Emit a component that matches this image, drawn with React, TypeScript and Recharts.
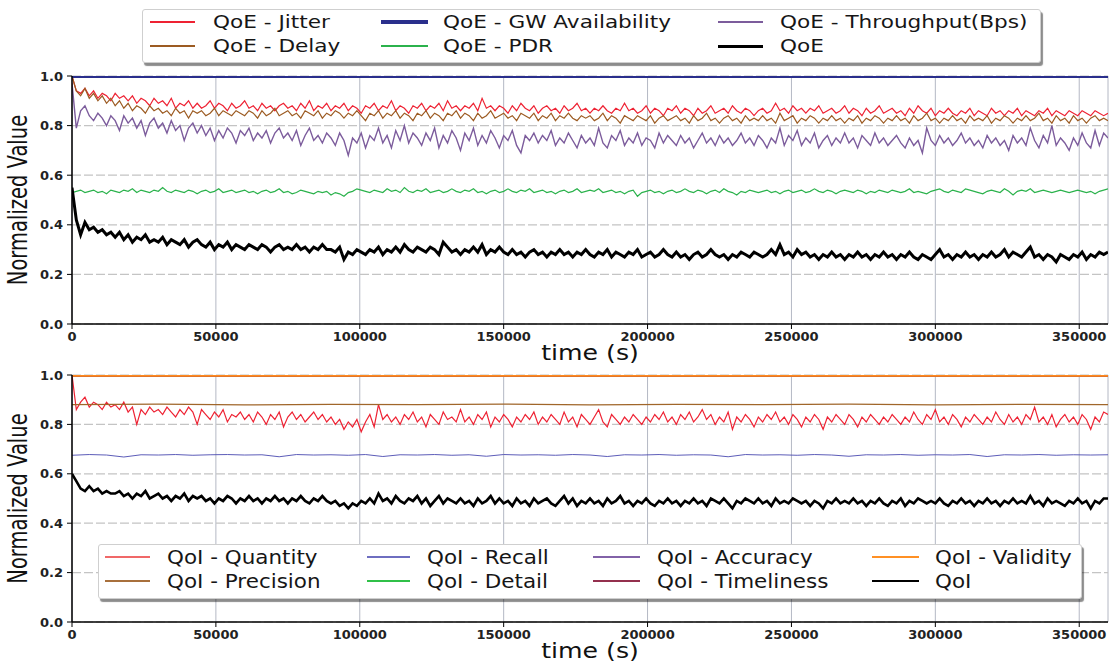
import { CartesianGrid, Label, Line, LineChart, XAxis, YAxis } from "recharts";

// sample times (s)
const time = [
  0, 1500, 3000, 4500, 6000, 7500, 9000, 10500, 12000, 13500,
  15000, 16500, 18000, 19500, 21000, 22500, 24000, 25500, 27000, 28500,
  30000, 31500, 33000, 34500, 36000, 37500, 39000, 40500, 42000, 43500,
  45000, 46500, 48000, 49500, 51000, 52500, 54000, 55500, 57000, 58500,
  60000, 61500, 63000, 64500, 66000, 67500, 69000, 70500, 72000, 73500,
  75000, 76500, 78000, 79500, 81000, 82500, 84000, 85500, 87000, 88500,
  90000, 91500, 93000, 94500, 96000, 97500, 99000, 100500, 102000, 103500,
  105000, 106500, 108000, 109500, 111000, 112500, 114000, 115500, 117000, 118500,
  120000, 121500, 123000, 124500, 126000, 127500, 129000, 130500, 132000, 133500,
  135000, 136500, 138000, 139500, 141000, 142500, 144000, 145500, 147000, 148500,
  150000, 151500, 153000, 154500, 156000, 157500, 159000, 160500, 162000, 163500,
  165000, 166500, 168000, 169500, 171000, 172500, 174000, 175500, 177000, 178500,
  180000, 181500, 183000, 184500, 186000, 187500, 189000, 190500, 192000, 193500,
  195000, 196500, 198000, 199500, 201000, 202500, 204000, 205500, 207000, 208500,
  210000, 211500, 213000, 214500, 216000, 217500, 219000, 220500, 222000, 223500,
  225000, 226500, 228000, 229500, 231000, 232500, 234000, 235500, 237000, 238500,
  240000, 241500, 243000, 244500, 246000, 247500, 249000, 250500, 252000, 253500,
  255000, 256500, 258000, 259500, 261000, 262500, 264000, 265500, 267000, 268500,
  270000, 271500, 273000, 274500, 276000, 277500, 279000, 280500, 282000, 283500,
  285000, 286500, 288000, 289500, 291000, 292500, 294000, 295500, 297000, 298500,
  300000, 301500, 303000, 304500, 306000, 307500, 309000, 310500, 312000, 313500,
  315000, 316500, 318000, 319500, 321000, 322500, 324000, 325500, 327000, 328500,
  330000, 331500, 333000, 334500, 336000, 337500, 339000, 340500, 342000, 343500,
  345000, 346500, 348000, 349500, 351000, 352500, 354000, 355500, 357000, 358500,
  360000,
];

const qoeJitter = [
  1.0, 0.94, 0.93, 0.95, 0.92, 0.94, 0.91, 0.93, 0.92, 0.9,
  0.93, 0.91, 0.92, 0.9, 0.92, 0.89, 0.91, 0.9, 0.88, 0.91,
  0.89, 0.9, 0.88, 0.91, 0.87, 0.89, 0.88, 0.9, 0.87, 0.89,
  0.87, 0.88, 0.9, 0.87, 0.89, 0.88, 0.86, 0.89, 0.87, 0.88,
  0.9, 0.87, 0.88, 0.86, 0.89, 0.87, 0.88, 0.86, 0.88, 0.89,
  0.87, 0.88, 0.86, 0.89, 0.87, 0.9, 0.86, 0.88, 0.87, 0.89,
  0.86, 0.88, 0.87, 0.89, 0.86, 0.88, 0.87, 0.85, 0.88, 0.87,
  0.89, 0.86, 0.88, 0.87, 0.9, 0.86, 0.88, 0.87, 0.85, 0.88,
  0.87, 0.89, 0.86, 0.88, 0.87, 0.89, 0.86, 0.9, 0.87, 0.88,
  0.86, 0.88, 0.87, 0.89, 0.86, 0.91, 0.87, 0.88, 0.86, 0.88,
  0.87, 0.85, 0.88, 0.86, 0.89, 0.87, 0.86, 0.88, 0.85, 0.87,
  0.88, 0.86, 0.87, 0.85, 0.88, 0.86, 0.87, 0.89, 0.86, 0.87,
  0.85, 0.87, 0.86, 0.88, 0.86, 0.85, 0.87, 0.86, 0.89, 0.86,
  0.87, 0.85, 0.86, 0.88, 0.85, 0.87, 0.86, 0.84, 0.87, 0.86,
  0.88, 0.85, 0.87, 0.86, 0.84, 0.87, 0.85, 0.86, 0.88, 0.85,
  0.86, 0.87, 0.85, 0.88, 0.86, 0.85, 0.87, 0.86, 0.84, 0.86,
  0.87, 0.85, 0.86, 0.89, 0.86, 0.87, 0.85, 0.88, 0.86, 0.87,
  0.85, 0.87, 0.86, 0.88, 0.85, 0.86, 0.87, 0.85, 0.86, 0.88,
  0.85, 0.87, 0.86, 0.84, 0.87, 0.85, 0.86, 0.88, 0.85, 0.86,
  0.87, 0.85, 0.86, 0.84, 0.87, 0.85, 0.88, 0.86, 0.85, 0.87,
  0.84, 0.86, 0.85, 0.87, 0.85, 0.84, 0.86, 0.85, 0.87, 0.84,
  0.86, 0.85, 0.84, 0.87, 0.85, 0.86, 0.84, 0.86, 0.85, 0.87,
  0.84, 0.86, 0.85, 0.84, 0.86, 0.85, 0.87, 0.84, 0.86, 0.85,
  0.84, 0.86, 0.85, 0.84, 0.86, 0.85, 0.84, 0.86, 0.85, 0.84,
  0.85,
];

const qoeDelay = [
  1.0, 0.94, 0.92, 0.95, 0.91, 0.93, 0.9, 0.92, 0.89, 0.91,
  0.88, 0.9, 0.87, 0.89, 0.86, 0.88, 0.87, 0.85, 0.88, 0.86,
  0.87, 0.85, 0.86, 0.84, 0.87, 0.85, 0.86, 0.83, 0.86, 0.85,
  0.86, 0.84, 0.85, 0.87, 0.84, 0.86, 0.85, 0.84, 0.86, 0.85,
  0.84, 0.86, 0.85, 0.83, 0.86, 0.84, 0.85, 0.87, 0.84, 0.85,
  0.86, 0.84, 0.85, 0.83, 0.86, 0.85, 0.84, 0.86, 0.83, 0.85,
  0.84, 0.86, 0.85, 0.83, 0.85, 0.84, 0.86, 0.84, 0.82, 0.85,
  0.84, 0.86, 0.83, 0.85, 0.84, 0.86, 0.83, 0.85, 0.84, 0.82,
  0.85, 0.84, 0.86, 0.83, 0.85, 0.84, 0.82, 0.85, 0.84, 0.86,
  0.83, 0.85, 0.84, 0.82, 0.85, 0.83, 0.84, 0.86, 0.83, 0.84,
  0.85, 0.83, 0.84, 0.82, 0.85, 0.84, 0.83, 0.85, 0.82, 0.84,
  0.83, 0.85, 0.82, 0.84, 0.83, 0.85, 0.83, 0.82, 0.84, 0.83,
  0.84, 0.82, 0.83, 0.85, 0.82, 0.84, 0.83, 0.81, 0.84, 0.83,
  0.82, 0.84, 0.83, 0.82, 0.84, 0.81, 0.83, 0.84, 0.82, 0.83,
  0.84, 0.82, 0.83, 0.81, 0.84, 0.82, 0.83, 0.85, 0.82, 0.83,
  0.81, 0.83, 0.84, 0.82, 0.83, 0.81, 0.84, 0.82, 0.83, 0.82,
  0.84, 0.82, 0.83, 0.81, 0.85, 0.82, 0.83, 0.84, 0.81, 0.83,
  0.82, 0.84, 0.83, 0.81, 0.83, 0.82, 0.84, 0.82, 0.83, 0.81,
  0.83, 0.82, 0.84, 0.81, 0.83, 0.82, 0.84, 0.83, 0.81, 0.83,
  0.82, 0.84, 0.82, 0.83, 0.81, 0.84, 0.82, 0.83, 0.85, 0.82,
  0.83, 0.81, 0.83, 0.82, 0.84, 0.82, 0.83, 0.81, 0.84, 0.82,
  0.83, 0.82, 0.84, 0.81, 0.83, 0.82, 0.84, 0.83, 0.81, 0.83,
  0.82, 0.84, 0.82, 0.83, 0.85, 0.82, 0.83, 0.81, 0.84, 0.82,
  0.83, 0.81, 0.84, 0.82, 0.83, 0.81, 0.83, 0.84, 0.82, 0.83,
  0.82,
];

const qoeThroughput = [
  0.97, 0.79, 0.86, 0.88, 0.84, 0.82, 0.85, 0.83, 0.8, 0.84,
  0.82, 0.78, 0.84, 0.81, 0.83, 0.79, 0.82, 0.76, 0.81, 0.83,
  0.79, 0.81, 0.77, 0.82, 0.78, 0.8, 0.74, 0.79, 0.81, 0.77,
  0.8, 0.76, 0.79, 0.74, 0.78, 0.75, 0.79, 0.77, 0.73, 0.78,
  0.76, 0.79, 0.74, 0.77, 0.75, 0.78, 0.73, 0.77, 0.79, 0.75,
  0.77, 0.74, 0.78, 0.72, 0.76, 0.79, 0.74, 0.76, 0.73, 0.77,
  0.75, 0.72, 0.77, 0.74, 0.68, 0.75, 0.73, 0.77, 0.71, 0.76,
  0.74, 0.79, 0.73, 0.76, 0.71, 0.78, 0.74, 0.8, 0.73, 0.77,
  0.75, 0.72, 0.77, 0.74, 0.79, 0.71, 0.76, 0.73, 0.78, 0.75,
  0.7, 0.77, 0.74, 0.79, 0.72, 0.76, 0.73, 0.78, 0.75, 0.71,
  0.76, 0.74, 0.78, 0.72, 0.69, 0.76, 0.74, 0.77, 0.73, 0.76,
  0.74, 0.78, 0.72, 0.75, 0.73, 0.77, 0.74, 0.71, 0.76, 0.73,
  0.75, 0.72, 0.79, 0.73, 0.71, 0.76, 0.74, 0.78, 0.72, 0.75,
  0.73, 0.77, 0.72, 0.75, 0.74, 0.71, 0.77, 0.73, 0.76, 0.74,
  0.72, 0.76, 0.73, 0.75, 0.71, 0.74, 0.77, 0.73, 0.75, 0.72,
  0.76, 0.73, 0.75, 0.72, 0.74, 0.77, 0.73, 0.75, 0.72, 0.76,
  0.74, 0.71, 0.75, 0.73, 0.79, 0.72, 0.76, 0.74, 0.78, 0.72,
  0.75, 0.73, 0.77, 0.71, 0.74, 0.76, 0.72, 0.75, 0.73, 0.77,
  0.73, 0.75, 0.71, 0.76, 0.74, 0.72, 0.77, 0.73, 0.75, 0.72,
  0.74, 0.76, 0.73, 0.71, 0.75, 0.72, 0.74, 0.69, 0.79, 0.74,
  0.72, 0.76, 0.73, 0.75, 0.72, 0.74, 0.77, 0.73, 0.75, 0.72,
  0.74, 0.71, 0.76, 0.73, 0.75, 0.72, 0.74, 0.7, 0.76, 0.73,
  0.75, 0.72, 0.79, 0.74, 0.71, 0.76, 0.73, 0.8, 0.72, 0.75,
  0.73, 0.7, 0.75, 0.72, 0.77, 0.73, 0.71, 0.78, 0.72, 0.77,
  0.75,
];

const qoePdr = [
  0.53, 0.535, 0.54, 0.53, 0.535, 0.54, 0.53, 0.535, 0.525, 0.54,
  0.535, 0.53, 0.54, 0.535, 0.545, 0.53, 0.54, 0.535, 0.53, 0.54,
  0.535, 0.55, 0.535, 0.53, 0.54, 0.535, 0.53, 0.54, 0.535, 0.525,
  0.535, 0.54, 0.53, 0.535, 0.545, 0.53, 0.535, 0.54, 0.53, 0.535,
  0.54, 0.53, 0.535, 0.525, 0.535, 0.54, 0.53, 0.535, 0.545, 0.53,
  0.535, 0.525, 0.53, 0.54, 0.535, 0.53, 0.525, 0.535, 0.53, 0.535,
  0.52, 0.53, 0.525, 0.515, 0.53, 0.535, 0.545, 0.54, 0.535, 0.53,
  0.54, 0.535, 0.53, 0.545, 0.535, 0.54, 0.53, 0.55, 0.535, 0.53,
  0.54, 0.535, 0.545, 0.53, 0.535, 0.54, 0.53, 0.535, 0.545, 0.535,
  0.53, 0.54, 0.535, 0.545, 0.53, 0.535, 0.525, 0.535, 0.54, 0.53,
  0.535, 0.545, 0.535, 0.53, 0.54, 0.535, 0.545, 0.53, 0.535, 0.54,
  0.53, 0.535, 0.525, 0.535, 0.54, 0.53, 0.535, 0.545, 0.53, 0.535,
  0.54, 0.535, 0.545, 0.53, 0.535, 0.54, 0.53, 0.535, 0.525, 0.535,
  0.54, 0.515, 0.53, 0.535, 0.54, 0.53, 0.535, 0.525, 0.535, 0.54,
  0.53, 0.535, 0.545, 0.535, 0.53, 0.54, 0.535, 0.525, 0.535, 0.54,
  0.53, 0.545, 0.535, 0.53, 0.52, 0.535, 0.53, 0.54, 0.535, 0.53,
  0.535, 0.54, 0.53, 0.535, 0.525, 0.535, 0.54, 0.53, 0.535, 0.54,
  0.53, 0.535, 0.545, 0.535, 0.53, 0.54, 0.535, 0.525, 0.535, 0.54,
  0.535, 0.53, 0.54, 0.535, 0.525, 0.535, 0.53, 0.54, 0.535, 0.53,
  0.54, 0.535, 0.53, 0.535, 0.545, 0.53, 0.535, 0.53, 0.525, 0.535,
  0.54, 0.545, 0.535, 0.53, 0.54, 0.535, 0.53, 0.545, 0.54, 0.535,
  0.53, 0.525, 0.535, 0.54, 0.535, 0.53, 0.545, 0.535, 0.52, 0.535,
  0.54, 0.535, 0.545, 0.53, 0.535, 0.54, 0.535, 0.53, 0.535, 0.54,
  0.535, 0.53, 0.535, 0.54, 0.535, 0.53, 0.535, 0.525, 0.535, 0.54,
  0.545,
];

const qoe = [
  0.55, 0.42, 0.36, 0.41, 0.38, 0.39, 0.37, 0.38, 0.36, 0.37,
  0.35, 0.37, 0.34, 0.36, 0.33, 0.35, 0.34, 0.36, 0.33, 0.34,
  0.33, 0.35, 0.32, 0.34, 0.33, 0.32, 0.34, 0.31, 0.33, 0.34,
  0.32, 0.31, 0.33, 0.3, 0.32, 0.31, 0.33, 0.3, 0.32, 0.31,
  0.3, 0.32, 0.31, 0.3, 0.32, 0.31, 0.29, 0.31, 0.32, 0.3,
  0.31, 0.3, 0.32, 0.3, 0.31, 0.29, 0.31, 0.3, 0.32, 0.3,
  0.3, 0.29, 0.31, 0.26, 0.29, 0.28, 0.3, 0.29, 0.28, 0.3,
  0.29, 0.31, 0.28, 0.3, 0.29, 0.31, 0.29, 0.32, 0.3, 0.29,
  0.31, 0.3, 0.29, 0.31, 0.3, 0.28, 0.33, 0.31, 0.29, 0.3,
  0.28, 0.3, 0.29, 0.31, 0.29, 0.32, 0.28, 0.3, 0.29, 0.31,
  0.29, 0.28, 0.3, 0.28, 0.29, 0.27, 0.29, 0.3, 0.28, 0.29,
  0.27, 0.29, 0.28, 0.3, 0.28, 0.29, 0.27, 0.29, 0.28, 0.3,
  0.28, 0.27, 0.29, 0.28, 0.3, 0.27, 0.29, 0.28, 0.27, 0.29,
  0.28, 0.3, 0.27, 0.28, 0.29, 0.27, 0.28, 0.3, 0.28, 0.27,
  0.29, 0.27, 0.28, 0.26, 0.28, 0.29, 0.27, 0.28, 0.3, 0.28,
  0.27, 0.28, 0.26, 0.28, 0.27, 0.29, 0.28, 0.27, 0.29, 0.28,
  0.27, 0.28, 0.3, 0.28, 0.32, 0.28, 0.29, 0.27, 0.3, 0.28,
  0.29, 0.27, 0.28, 0.26, 0.28, 0.27, 0.29, 0.27, 0.28, 0.26,
  0.28, 0.27, 0.29, 0.27, 0.28, 0.26, 0.28, 0.27, 0.29, 0.27,
  0.28, 0.26, 0.28, 0.27, 0.29, 0.27, 0.26, 0.28, 0.27, 0.26,
  0.28, 0.3, 0.27, 0.28, 0.26, 0.28, 0.27, 0.29, 0.27, 0.28,
  0.26, 0.28, 0.27, 0.29, 0.27, 0.28, 0.3, 0.27, 0.29, 0.28,
  0.27, 0.29, 0.31, 0.27, 0.28, 0.26, 0.28, 0.27, 0.25, 0.28,
  0.27, 0.26, 0.28, 0.27, 0.29, 0.26, 0.28, 0.27, 0.29, 0.28,
  0.29,
];

const qoiQuantity = [
  1.0, 0.86, 0.89, 0.91, 0.87, 0.89, 0.88, 0.86, 0.89, 0.87,
  0.88, 0.86, 0.89, 0.85, 0.87, 0.8, 0.86, 0.84, 0.87, 0.85,
  0.86, 0.84, 0.87, 0.85, 0.83, 0.86, 0.84, 0.87, 0.85, 0.8,
  0.86, 0.84, 0.82, 0.85, 0.83, 0.86, 0.81, 0.84, 0.83, 0.85,
  0.82, 0.84, 0.81, 0.85, 0.83, 0.8, 0.84, 0.82, 0.85, 0.79,
  0.83, 0.85, 0.82, 0.84, 0.81, 0.83, 0.85, 0.82, 0.84, 0.81,
  0.83, 0.8, 0.82, 0.78, 0.81, 0.79, 0.82, 0.77, 0.81, 0.84,
  0.79, 0.88, 0.82, 0.84, 0.81, 0.83, 0.8, 0.84, 0.82, 0.85,
  0.81, 0.83, 0.79, 0.84, 0.82, 0.8, 0.85, 0.82, 0.83, 0.81,
  0.86, 0.81, 0.83, 0.8, 0.84, 0.82, 0.85, 0.79, 0.83, 0.81,
  0.84, 0.82, 0.79, 0.83, 0.81, 0.84, 0.82, 0.85, 0.8, 0.83,
  0.81, 0.84, 0.82, 0.8, 0.85, 0.81, 0.83, 0.79, 0.84, 0.82,
  0.8, 0.83, 0.86, 0.81, 0.79, 0.84, 0.82, 0.8, 0.83, 0.81,
  0.84, 0.82, 0.8, 0.83, 0.81, 0.84, 0.82, 0.85, 0.81, 0.83,
  0.8, 0.84, 0.82, 0.85, 0.81, 0.83, 0.86, 0.82, 0.84, 0.8,
  0.83, 0.81, 0.85, 0.78, 0.83, 0.81, 0.84, 0.82, 0.79, 0.83,
  0.81, 0.84, 0.82, 0.85, 0.81, 0.83, 0.8, 0.84, 0.82, 0.79,
  0.83, 0.81, 0.84, 0.82, 0.78, 0.83, 0.81, 0.84, 0.82, 0.8,
  0.84, 0.82, 0.79, 0.83, 0.81, 0.84, 0.82, 0.8, 0.83, 0.81,
  0.84, 0.82, 0.8, 0.83, 0.81, 0.85, 0.82, 0.8, 0.84, 0.82,
  0.86, 0.81, 0.83, 0.8, 0.84, 0.82, 0.79, 0.83, 0.81, 0.84,
  0.82, 0.8, 0.83, 0.81, 0.85, 0.82, 0.8, 0.84, 0.81, 0.83,
  0.8, 0.84, 0.82, 0.87, 0.81, 0.83, 0.8, 0.84, 0.79, 0.82,
  0.84, 0.81, 0.83, 0.8, 0.84, 0.82, 0.78, 0.83, 0.81, 0.85,
  0.84,
];

const qoi = [
  0.6, 0.57, 0.54, 0.53, 0.55, 0.53, 0.54, 0.52, 0.53, 0.52,
  0.52, 0.53, 0.51, 0.52, 0.5, 0.52, 0.51, 0.53, 0.5, 0.51,
  0.52, 0.5, 0.51, 0.49, 0.51, 0.5, 0.52, 0.49, 0.51, 0.5,
  0.51, 0.49, 0.5, 0.48, 0.5, 0.49, 0.51, 0.5, 0.48, 0.5,
  0.49, 0.51, 0.49, 0.5, 0.48, 0.5, 0.49, 0.51, 0.49, 0.5,
  0.48, 0.5, 0.49, 0.51, 0.49, 0.48, 0.5, 0.49, 0.51, 0.49,
  0.48, 0.49, 0.47, 0.48, 0.46, 0.48, 0.47, 0.49, 0.48, 0.5,
  0.48, 0.52, 0.49, 0.5, 0.48, 0.51, 0.49, 0.48, 0.5, 0.49,
  0.51, 0.48, 0.5, 0.47, 0.49, 0.51, 0.48, 0.5, 0.49, 0.48,
  0.5, 0.48, 0.49, 0.47, 0.5, 0.48, 0.49, 0.51, 0.48, 0.5,
  0.48, 0.49, 0.47, 0.5, 0.48, 0.49, 0.47, 0.5, 0.48, 0.49,
  0.5, 0.48, 0.47, 0.49, 0.51, 0.48, 0.5, 0.47, 0.49, 0.48,
  0.5, 0.48, 0.49, 0.47, 0.5, 0.48, 0.49, 0.51, 0.48, 0.49,
  0.47, 0.49, 0.48, 0.5, 0.48, 0.47, 0.49, 0.48, 0.5, 0.48,
  0.49, 0.47, 0.49, 0.48, 0.5, 0.48, 0.49, 0.47, 0.5, 0.49,
  0.48, 0.5, 0.48, 0.46, 0.49, 0.48, 0.5, 0.49, 0.48, 0.5,
  0.48, 0.49, 0.47, 0.5, 0.48, 0.49, 0.48, 0.5, 0.49, 0.48,
  0.49, 0.47, 0.49, 0.48, 0.46, 0.49, 0.48, 0.5, 0.48, 0.49,
  0.48, 0.5, 0.48, 0.49, 0.47, 0.49, 0.48, 0.5, 0.48, 0.47,
  0.49, 0.48, 0.5, 0.47, 0.49, 0.48, 0.5, 0.49, 0.48, 0.49,
  0.48, 0.5, 0.48, 0.47, 0.49, 0.48, 0.5, 0.48, 0.49, 0.47,
  0.49, 0.48, 0.5, 0.48, 0.49, 0.47, 0.49, 0.48, 0.5, 0.48,
  0.49, 0.48, 0.51, 0.48, 0.49, 0.47, 0.5, 0.48, 0.49, 0.48,
  0.47, 0.49, 0.48, 0.5, 0.48, 0.49, 0.46, 0.49, 0.48, 0.5,
  0.5,
];

// recall is nearly flat, read at a coarser step
const recallTime = [
  0, 6000, 12000, 18000, 24000, 30000, 36000, 42000, 48000, 54000,
  60000, 66000, 72000, 78000, 84000, 90000, 96000, 102000, 108000, 114000,
  120000, 126000, 132000, 138000, 144000, 150000, 156000, 162000, 168000, 174000,
  180000, 186000, 192000, 198000, 204000, 210000, 216000, 222000, 228000, 234000,
  240000, 246000, 252000, 258000, 264000, 270000, 276000, 282000, 288000, 294000,
  300000, 306000, 312000, 318000, 324000, 330000, 336000, 342000, 348000, 354000,
  360000,
];
const qoiRecall = [
  0.675, 0.678, 0.676, 0.668, 0.677, 0.676, 0.678, 0.675, 0.677, 0.678,
  0.676, 0.677, 0.669, 0.678, 0.676, 0.677, 0.675, 0.678, 0.67, 0.677,
  0.676, 0.678, 0.675, 0.677, 0.671, 0.678, 0.676, 0.677, 0.675, 0.678,
  0.676, 0.67, 0.677, 0.676, 0.678, 0.675, 0.677, 0.676, 0.669, 0.678,
  0.676, 0.677, 0.675, 0.678, 0.676, 0.671, 0.677, 0.676, 0.678, 0.675,
  0.677, 0.676, 0.678, 0.67, 0.677, 0.676, 0.678, 0.675, 0.677, 0.676,
  0.677,
];

const precisionTime = [0, 30000, 60000, 90000, 120000, 150000, 180000, 210000, 240000, 270000, 300000, 330000, 360000];
const qoiPrecision = [0.88, 0.882, 0.879, 0.881, 0.88, 0.882, 0.879, 0.881, 0.88, 0.882, 0.879, 0.881, 0.88];

// series that stay at 1.0 the whole run
const flatTime = [0, 360000];
const qoeGwAvailability = [1, 1];
const qoiAccuracy = [1, 1];
const qoiTimeliness = [1, 1];
const qoiDetail = [1, 1];
const qoiValidity = [1, 1];

const X_TICKS = [0, 50000, 100000, 150000, 200000, 250000, 300000, 350000];
const Y_TICKS = [0, 0.2, 0.4, 0.6, 0.8, 1.0];

const FONT = "DejaVu Sans";

const topData = time.map((t, i) => ({
  t,
  jitter: qoeJitter[i],
  delay: qoeDelay[i],
  throughput: qoeThroughput[i],
  pdr: qoePdr[i],
  qoe: qoe[i],
}));

const bottomData = time.map((t, i) => ({
  t,
  quantity: qoiQuantity[i],
  qoi: qoi[i],
}));

const recallData = recallTime.map((t, i) => ({ t, recall: qoiRecall[i] }));
const precisionData = precisionTime.map((t, i) => ({ t, precision: qoiPrecision[i] }));

const flatData = flatTime.map((t, i) => ({
  t,
  gw: qoeGwAvailability[i],
  accuracy: qoiAccuracy[i],
  timeliness: qoiTimeliness[i],
  detail: qoiDetail[i],
  validity: qoiValidity[i],
}));

function XTick({ x, y, payload }: any) {
  return (
    <text x={x} y={y} dy="0.71em" textAnchor="middle" fontSize={13} fontWeight="bold" fill="#222" fontFamily={FONT}>
      {payload.value}
    </text>
  );
}

function YTick({ x, y, payload }: any) {
  return (
    <text x={x} y={y} dy="0.36em" textAnchor="end" fontSize={13} fontWeight="bold" fill="#222" fontFamily={FONT}>
      {Number(payload.value).toFixed(1)}
    </text>
  );
}

function XLabel({ viewBox }: any) {
  const cx = viewBox.x + viewBox.width / 2;
  return (
    <text
      transform={`translate(${cx},${viewBox.y + 36}) scale(1.2,1)`}
      textAnchor="middle"
      fontSize={21}
      fill="#111"
      fontFamily={FONT}
    >
      time (s)
    </text>
  );
}

function YLabel({ viewBox }: any) {
  const cy = viewBox.y + viewBox.height / 2;
  return (
    <text
      transform={`translate(18,${cy}) scale(1.35,1) rotate(-90)`}
      textAnchor="middle"
      dominantBaseline="central"
      fontSize={19.5}
      fill="#111"
      fontFamily={FONT}
    >
      Normalized Value
    </text>
  );
}

// bottom/left axes with ticks, plus bare top/right axes to close the frame
function Frame() {
  return [
    <XAxis
      key="xb"
      dataKey="t"
      type="number"
      domain={[0, 360000]}
      ticks={X_TICKS}
      tick={<XTick />}
      tickSize={5}
      tickMargin={3}
      tickLine={{ stroke: "#000" }}
      axisLine={{ stroke: "#000", strokeWidth: 1.5 }}
      height={46}
      allowDataOverflow
    >
      <Label content={<XLabel />} />
    </XAxis>,
    <XAxis
      key="xt"
      xAxisId="top"
      orientation="top"
      type="number"
      domain={[0, 360000]}
      tick={false}
      tickLine={false}
      axisLine={{ stroke: "#000", strokeWidth: 1.5 }}
      height={0}
    />,
    <YAxis
      key="yl"
      type="number"
      domain={[0, 1]}
      ticks={Y_TICKS}
      tick={<YTick />}
      tickSize={5}
      tickMargin={4}
      tickLine={{ stroke: "#000" }}
      axisLine={{ stroke: "#000", strokeWidth: 1.5 }}
      width={72}
      allowDataOverflow
    >
      <Label content={<YLabel />} />
    </YAxis>,
    <YAxis
      key="yr"
      yAxisId="right"
      orientation="right"
      type="number"
      domain={[0, 1]}
      tick={false}
      tickLine={false}
      axisLine={{ stroke: "#000", strokeWidth: 1.5 }}
      width={0}
    />,
  ];
}

function Grid() {
  return [
    <CartesianGrid key="gv" horizontal={false} vertical stroke="#b4b8c4" strokeWidth={1} />,
    <CartesianGrid key="gh" horizontal vertical={false} stroke="#c4c4c4" strokeWidth={1.2} strokeDasharray="9 3" />,
  ];
}

type Item = { label: string; color: string; width: number; x1: number; x2: number; tx: number; y: number };

function LegendBox({
  left,
  top,
  width,
  height,
  items,
  fontSize,
  stretch,
}: {
  left: number;
  top: number;
  width: number;
  height: number;
  items: Item[];
  fontSize: number;
  stretch: number;
}) {
  return (
    <>
      <div
        style={{
          position: "absolute",
          left,
          top,
          width,
          height,
          boxSizing: "border-box",
          background: "#fff",
          border: "1px solid #cfcfcf",
          borderRadius: 3,
          boxShadow: "2px 3px 1px rgba(0,0,0,0.45)",
        }}
      />
      {items.map((it) => (
        <div key={it.label}>
          <div
            style={{
              position: "absolute",
              left: it.x1,
              top: it.y - it.width / 2,
              width: it.x2 - it.x1,
              height: it.width,
              background: it.color,
            }}
          />
          <span
            style={{
              position: "absolute",
              left: it.tx,
              top: it.y,
              fontSize,
              lineHeight: 1,
              whiteSpace: "nowrap",
              color: "#161616",
              fontFamily: FONT,
              transform: `translate(0,-50%) scaleX(${stretch})`,
              transformOrigin: "left center",
            }}
          >
            {it.label}
          </span>
        </div>
      ))}
    </>
  );
}

const C = {
  jitter: "#ee2233",
  delay: "#9c5b22",
  gw: "#2a2f8c",
  throughput: "#7c5c9c",
  pdr: "#2bb24c",
  black: "#000",
  recall: "#4a4ab0",
  accuracy: "#7a5aa0",
  timeliness: "#8e2a45",
  validity: "#ff8a1e",
  precision: "#a0662a",
};

export default function App() {
  const topItems: Item[] = [
    { label: "QoE - Jitter", color: C.jitter, width: 1.2, x1: 150, x2: 195, tx: 213, y: 22 },
    { label: "QoE - Delay", color: C.delay, width: 1.2, x1: 150, x2: 195, tx: 213, y: 46 },
    { label: "QoE - GW Availability", color: C.gw, width: 4, x1: 381, x2: 428, tx: 443, y: 22 },
    { label: "QoE - PDR", color: C.pdr, width: 1.2, x1: 381, x2: 428, tx: 443, y: 46 },
    { label: "QoE - Throughput(Bps)", color: C.throughput, width: 1.2, x1: 718, x2: 763, tx: 780, y: 22 },
    { label: "QoE", color: C.black, width: 3, x1: 718, x2: 763, tx: 780, y: 46 },
  ];
  const bottomItems: Item[] = [
    { label: "QoI - Quantity", color: "#f06868", width: 1.5, x1: 105, x2: 150, tx: 167, y: 557 },
    { label: "QoI - Precision", color: "#a8703c", width: 1.5, x1: 105, x2: 150, tx: 167, y: 581 },
    { label: "QoI - Recall", color: "#6e6ec0", width: 1.5, x1: 367, x2: 410, tx: 427, y: 557 },
    { label: "QoI - Detail", color: "#30c048", width: 1.5, x1: 367, x2: 410, tx: 427, y: 581 },
    { label: "QoI - Accuracy", color: "#8262a8", width: 2, x1: 593, x2: 640, tx: 657, y: 557 },
    { label: "QoI - Timeliness", color: "#94304e", width: 2, x1: 593, x2: 640, tx: 657, y: 581 },
    { label: "QoI - Validity", color: "#ff9024", width: 2, x1: 872, x2: 919, tx: 935, y: 557 },
    { label: "QoI", color: C.black, width: 2.5, x1: 872, x2: 919, tx: 935, y: 581 },
  ];

  return (
    <div
      style={{
        position: "absolute",
        left: 0,
        top: 0,
        width: 1110,
        height: 668,
        background: "#fff",
        fontFamily: FONT,
        overflow: "hidden",
      }}
    >
      <div style={{ position: "absolute", left: 0, top: 0 }}>
        <LineChart width={1110} height={370} data={topData} margin={{ top: 76, right: 2, left: 0, bottom: 0 }}>
          {Grid()}
          {Frame()}
          <Line dataKey="jitter" stroke={C.jitter} strokeWidth={1.2} dot={false} isAnimationActive={false} />
          <Line dataKey="delay" stroke={C.delay} strokeWidth={1.2} dot={false} isAnimationActive={false} />
          <Line data={flatData} dataKey="gw" stroke={C.gw} strokeWidth={4} dot={false} isAnimationActive={false} />
          <Line dataKey="pdr" stroke={C.pdr} strokeWidth={1.2} dot={false} isAnimationActive={false} />
          <Line dataKey="throughput" stroke={C.throughput} strokeWidth={1.4} dot={false} isAnimationActive={false} />
          <Line dataKey="qoe" stroke={C.black} strokeWidth={3} dot={false} isAnimationActive={false} />
        </LineChart>
      </div>
      <div style={{ position: "absolute", left: 0, top: 340 }}>
        <LineChart width={1110} height={328} data={bottomData} margin={{ top: 35, right: 2, left: 0, bottom: 0 }}>
          {Grid()}
          {Frame()}
          <Line dataKey="quantity" stroke={C.jitter} strokeWidth={1.2} dot={false} isAnimationActive={false} />
          <Line data={precisionData} dataKey="precision" stroke={C.precision} strokeWidth={1.2} dot={false} isAnimationActive={false} />
          <Line data={recallData} dataKey="recall" stroke={C.recall} strokeWidth={0.9} dot={false} isAnimationActive={false} />
          <Line data={flatData} dataKey="detail" stroke={C.pdr} strokeWidth={3.5} dot={false} isAnimationActive={false} />
          <Line data={flatData} dataKey="accuracy" stroke={C.accuracy} strokeWidth={3.5} dot={false} isAnimationActive={false} />
          <Line data={flatData} dataKey="timeliness" stroke={C.timeliness} strokeWidth={3.5} dot={false} isAnimationActive={false} />
          <Line data={flatData} dataKey="validity" stroke={C.validity} strokeWidth={3.5} dot={false} isAnimationActive={false} />
          <Line dataKey="qoi" stroke={C.black} strokeWidth={2.6} dot={false} isAnimationActive={false} />
        </LineChart>
      </div>
      <LegendBox left={142} top={9} width={899} height={54} items={topItems} fontSize={18} stretch={1.2} />
      <LegendBox left={98} top={544} width={984} height={55} items={bottomItems} fontSize={19} stretch={1.13} />
    </div>
  );
}
